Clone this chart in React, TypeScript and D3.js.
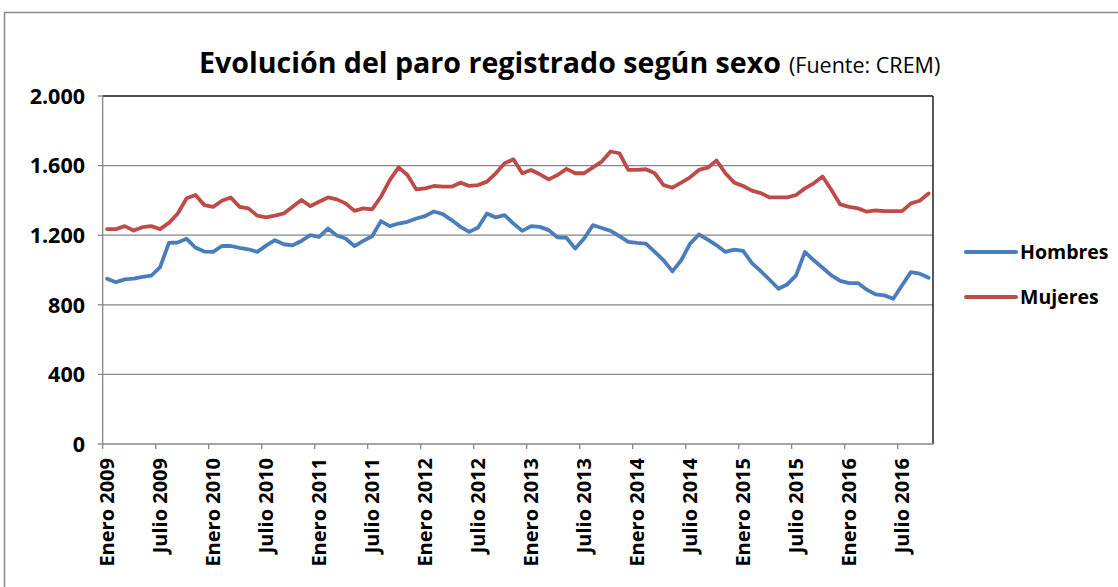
import React from "react";
import * as d3 from "d3";

const monthNames = ["Enero","Febrero","Marzo","Abril","Mayo","Junio","Julio","Agosto","Septiembre","Octubre","Noviembre","Diciembre"];
const years = [2009, 2010, 2011, 2012, 2013, 2014, 2015, 2016];
const categories: string[] = [];
years.forEach((y) => monthNames.forEach((m) => categories.push(`${m} ${y}`)));
categories.splice(94);

const hombres = [
  950, 930, 946, 950, 960, 967, 1017, 1156, 1158, 1179, 1129, 1106, 1104, 1138, 1138, 1127, 1119, 1104, 1140,
  1171, 1148, 1142, 1167, 1200, 1190, 1238, 1198, 1181, 1137, 1167, 1194, 1281, 1252, 1267, 1277, 1296, 1310, 1336,
  1321, 1287, 1248, 1219, 1244, 1325, 1302, 1315, 1267, 1225, 1252, 1248, 1229, 1187, 1185, 1123, 1181, 1258, 1241,
  1225, 1194, 1162, 1156, 1152, 1104, 1056, 992, 1056, 1152, 1204, 1175, 1142, 1104, 1117, 1110, 1040, 993,
  944, 892, 917, 969, 1104, 1056, 1013, 969, 937, 925, 925, 887, 860, 854, 835, 912, 988, 979, 956,
];
const mujeres = [
  1235, 1235, 1252, 1227, 1246, 1252, 1235, 1271, 1325, 1412, 1431, 1373, 1363, 1398, 1417, 1363, 1354, 1312, 1303,
  1313, 1325, 1363, 1402, 1367, 1392, 1417, 1406, 1383, 1340, 1354, 1348, 1421, 1517, 1590, 1546, 1463, 1469, 1483,
  1479, 1479, 1502, 1483, 1488, 1508, 1556, 1613, 1636, 1556, 1575, 1550, 1521, 1546, 1581, 1556, 1556, 1590, 1623,
  1681, 1671, 1575, 1575, 1579, 1556, 1488, 1473, 1502, 1533, 1575, 1588, 1629, 1556, 1502, 1483, 1456, 1442,
  1417, 1417, 1417, 1431, 1469, 1498, 1537, 1460, 1377, 1363, 1354, 1335, 1342, 1338, 1338, 1338, 1383, 1398, 1440,
];
const yTicks = [0, 400, 800, 1200, 1600, 2000];
const seriesNames = ["Hombres", "Mujeres"];
const seriesColors = ["#4A7EBB", "#BE4B48"];

const fmt = (v: number) => d3.format(",")(v).replace(/,/g, ".");

export default function App() {
  const W = 1118, H = 587;
  const left = 102.7, right = 933, top = 96, bottom = 444;
  const x = d3.scaleBand<string>().domain(categories).range([left, right]).paddingInner(0).paddingOuter(0);
  const y = d3.scaleLinear().domain([0, 2000]).range([bottom, top]);
  const bw = x.bandwidth();
  const cx = (c: string) => (x(c) as number) + bw / 2;
  const line = d3.line<number>().x((_, i) => cx(categories[i])).y((d) => y(d));
  const font = "'Open Sans', sans-serif";
  const series = [hombres, mujeres];

  return (
    <svg width={W} height={H} style={{ position: "fixed", left: 0, top: 0, background: "#fff" }} fontFamily={font}>
      <rect x={0} y={0} width={W} height={H} fill="#fff" />
      <rect x={4.5} y={12.5} width={1200} height={700} fill="none" stroke="#878787" strokeWidth={1.5} />
      <text x={199} y={73} fontSize={28.6} fontWeight="bold" fill="#000">
        Evolución del paro registrado según sexo
        <tspan fontWeight="normal" fontSize={21.5} dx={8}>(Fuente: CREM)</tspan>
      </text>
      {yTicks.map((t) => (
        <g key={t}>
          {t > 0 && <line x1={left} x2={right} y1={y(t)} y2={y(t)} stroke="#868686" strokeWidth={1.3} />}
          <line x1={left - 5} x2={left} y1={y(t)} y2={y(t)} stroke="#868686" strokeWidth={1.3} />
          <text x={85} y={y(t)} dy="0.36em" textAnchor="end" fontSize={21.5} fontWeight="bold">{fmt(t)}</text>
        </g>
      ))}
      <line x1={left} x2={right} y1={top} y2={top} stroke="#333" strokeWidth={1.3} />
      <line x1={right} x2={right} y1={top} y2={bottom} stroke="#222" strokeWidth={1.5} />
      <line x1={left} x2={left} y1={top} y2={bottom} stroke="#868686" strokeWidth={1.3} />
      <line x1={left} x2={right} y1={bottom} y2={bottom} stroke="#868686" strokeWidth={1.3} />
      {categories.map((c, i) =>
        i % 6 === 0 ? (
          <g key={c}>
            <line x1={x(c)} x2={x(c)} y1={bottom} y2={bottom + 5} stroke="#868686" strokeWidth={1.3} />
            <text
              transform={`translate(${cx(c)},${bottom + 14}) rotate(-90)`}
              textAnchor="end"
              dy="0.36em"
              fontSize={20}
              fontWeight="bold"
            >
              {c}
            </text>
          </g>
        ) : null
      )}
      {series.map((s, k) => (
        <path key={k} d={line(s) as string} fill="none" stroke={seriesColors[k]} strokeWidth={3.8} strokeLinejoin="round" strokeLinecap="round" />
      ))}
      {seriesNames.map((n, k) => (
        <g key={n}>
          <line x1={966} x2={1016} y1={252 + k * 45} y2={252 + k * 45} stroke={seriesColors[k]} strokeWidth={4} strokeLinecap="round" />
          <text x={1020} y={252 + k * 45} dy="0.36em" fontSize={19.5} fontWeight="bold">{n}</text>
        </g>
      ))}
    </svg>
  );
}
